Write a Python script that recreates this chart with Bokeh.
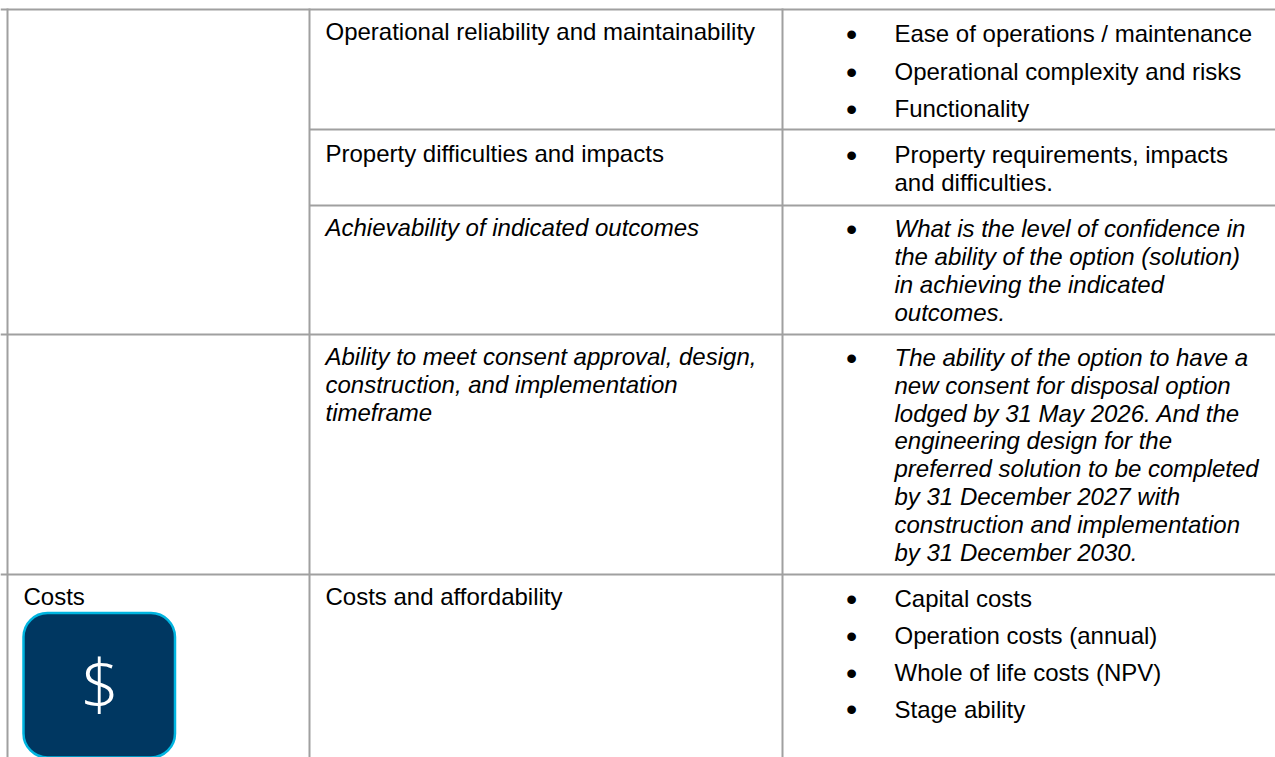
from bokeh.plotting import figure
from bokeh.models import Range1d
from bokeh.core.properties import value
from bokeh.embed import file_html
from bokeh.resources import INLINE

# Table rules, in page pixels
h_rules_full = [9, 334, 574]
h_rules_inner = [129, 205]
v_rules = [7, 309, 782]

# Upright cell text: (x, y, text)
upright_x = [23, 325, 325, 325]
upright_y = [596, 31, 153, 596]
upright_t = ["Costs", "Operational reliability and maintainability",
             "Property difficulties and impacts", "Costs and affordability"]

# Italic cell text
italic_x = [325, 325, 325, 325]
italic_y = [227, 356, 384, 412]
italic_t = ["Achievability of indicated outcomes",
            "Ability to meet consent approval, design,",
            "construction, and implementation", "timeframe"]

# Upright bullet column
bullet_y = [33, 71, 108, 154, 598, 635, 672, 708.5]
bullet_t = ["Ease of operations / maintenance", "Operational complexity and risks",
            "Functionality", "Property requirements, impacts",
            "Capital costs", "Operation costs (annual)",
            "Whole of life costs (NPV)", "Stage ability"]
cont_y = [182]
cont_t = ["and difficulties."]

# Italic bullet column
ibullet_y = [228, 357]
ibullet_t = ["What is the level of confidence in",
             "The ability of the option to have a"]
icont_y = [256, 284, 311.5, 385, 412.5, 440, 468, 496, 524, 552]
icont_t = ["the ability of the option (solution)", "in achieving the indicated", "outcomes.",
           "new consent for disposal option", "lodged by 31 May 2026. And the",
           "engineering design for the", "preferred solution to be completed",
           "by 31 December 2027 with", "construction and implementation",
           "by 31 December 2030."]

FONT = value("Liberation Sans")
SIZE = "24px"
RULE = "#a0a0a0"

p = figure(width=1275, height=757, output_backend="svg", toolbar_location=None,
           x_range=Range1d(0, 1275), y_range=Range1d(757, 0),
           x_axis_type=None, y_axis_type=None, min_border=0,
           outline_line_color=None)
p.grid.visible = False

p.segment(x0=[0] * 3, x1=[1275] * 3, y0=h_rules_full, y1=h_rules_full, line_color=RULE, line_width=2)
p.segment(x0=[309] * 2, x1=[1275] * 2, y0=h_rules_inner, y1=h_rules_inner, line_color=RULE, line_width=2)
p.segment(x0=v_rules, x1=v_rules, y0=[8] * 3, y1=[757] * 3, line_color=RULE, line_width=2)


def put(xs, ys, ts, italic=False):
    p.text(x=xs, y=ys, text=ts, text_font=FONT, text_font_size=SIZE, text_color="#000000",
           text_baseline="alphabetic", text_font_style="italic" if italic else "normal")


put(upright_x, upright_y, upright_t)
put(italic_x, italic_y, italic_t, True)
put([894] * len(bullet_t), bullet_y, bullet_t)
put([894] * len(cont_t), cont_y, cont_t)
put([894] * len(ibullet_t), ibullet_y, ibullet_t, True)
put([894] * len(icont_t), icont_y, icont_t, True)
all_bullets = bullet_y + ibullet_y
p.text(x=[851] * len(all_bullets), y=all_bullets, text=["•"] * len(all_bullets), text_font=FONT,
       text_font_size="32px", text_color="#000000", text_align="center", text_baseline="alphabetic")

p.quad(left=[23], right=[174.5], top=[612.5], bottom=[757], fill_color="#003761",
       line_color="#00b5e0", line_width=2.5, border_radius=24)
p.text(x=[99], y=[682], text=["$"], text_font=value("'Open Sans Light','Lato Light','Open Sans'"),
       text_font_size="70px", text_color="#ffffff", text_align="center", text_baseline="alphabetic")

open("out.html", "w").write(file_html(p, INLINE))
